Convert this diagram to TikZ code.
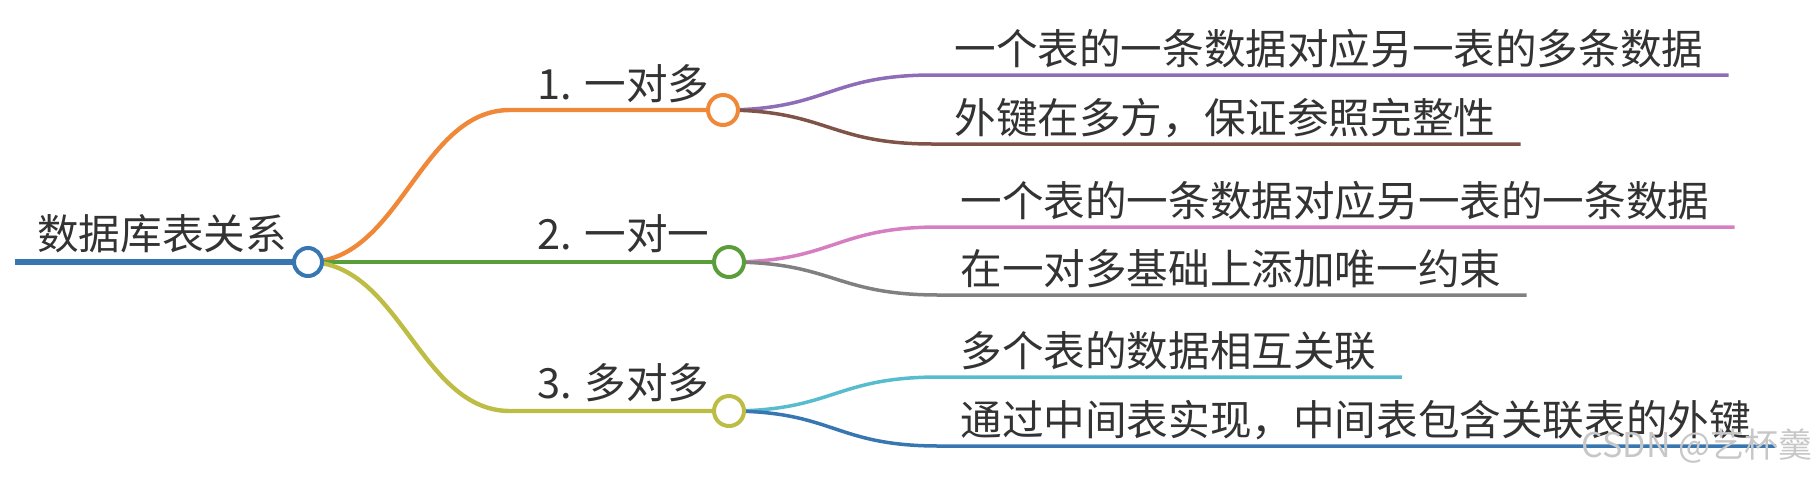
\documentclass[tikz,border=0pt]{standalone}
\usepackage{fontspec}
\setmainfont{Noto Sans CJK SC}
\pgfdeclarelayer{background}
\pgfsetlayers{background,main}

\tikzset{
  hub/.style={circle, draw, fill=white, line width=2pt, minimum size=15pt, inner sep=0pt},
  lbl/.style={anchor=base west, inner sep=0pt},
  leaf/.style={anchor=base west, inner xsep=12.5pt, inner ysep=0pt},
  branch/.style={line width=2.2pt},
  twig/.style={line width=1.75pt},
}

\begin{document}
\begin{tikzpicture}[x=0.5pt, y=-0.5pt, font=\fontsize{20.8pt}{24pt}\selectfont, text=black!80]

\definecolor{cRoot}{HTML}{3776B0}
\definecolor{cOne}{HTML}{F0883A}
\definecolor{cTwo}{HTML}{5A9E3C}
\definecolor{cThree}{HTML}{BDBD45}
\definecolor{cOneA}{HTML}{8D6CB8}
\definecolor{cOneB}{HTML}{7F5347}
\definecolor{cTwoA}{HTML}{D57FC0}
\definecolor{cTwoB}{HTML}{808080}
\definecolor{cThreeA}{HTML}{56BCCE}
\definecolor{cThreeB}{HTML}{3776B0}

\useasboundingbox (0,0) rectangle (1819,478);

%% Geometry: x of the three hubs, leaves sit 231px further right.
\def\xa{723}
\def\xb{729}
\def\xc{729}

%% ---------- hubs ----------
\node[hub, draw=cRoot, minimum size=14pt] (root) at (308,262) {};
\node[hub, draw=cOne] (one) at (\xa,110) {};
\node[hub, draw=cTwo] (two) at (\xb,262) {};
\node[hub, draw=cThree] (three) at (\xc,411) {};

%% ---------- labels ----------
\node[lbl] (tRoot) at (37,249) {数据库表关系};
\node[lbl] (tOne) at (537,99) {1. 一对多};
\node[lbl] (tTwo) at (537,249) {2. 一对一};
\node[lbl] (tThree) at (537,398) {3. 多对多};

%% ---------- leaves ----------
\node[leaf] (l1a) at (\xa+206,64) {一个表的一条数据对应另一表的多条数据};
\node[leaf] (l1b) at (\xa+206,133) {外键在多方，保证参照完整性};
\node[leaf] (l2a) at (\xb+206,216) {一个表的一条数据对应另一表的一条数据};
\node[leaf] (l2b) at (\xb+206,284) {在一对多基础上添加唯一约束};
\node[leaf] (l3a) at (\xc+206,366) {多个表的数据相互关联};
\node[leaf] (l3b) at (\xc+206,435) {通过中间表实现，中间表包含关联表的外键};

%% curve ends
\coordinate (rootStart) at (15,262);
\coordinate (kOne) at (510,110);
\coordinate (kThree) at (510,411);
\coordinate (k1a) at (\xa+210,75);
\coordinate (k1b) at (\xa+210,144);
\coordinate (k2a) at (\xb+210,227);
\coordinate (k2b) at (\xb+210,295);
\coordinate (k3a) at (\xc+210,377);
\coordinate (k3b) at (\xc+210,446);

%% ---------- connectors, under the hubs ----------
\begin{pgfonlayer}{background}
\draw[cRoot, line width=3pt] (rootStart) -- (root.center);
\draw[cOne, branch] (root.center) .. controls +(92,0) and +(-90,0) .. (kOne) -- (one.center);
\draw[cTwo, branch] (root.center) -- (two.center);
\draw[cThree, branch] (root.center) .. controls +(92,0) and +(-90,0) .. (kThree) -- (three.center);

\draw[cOneA, twig] (one.center) .. controls +(105,0) and +(-105,0) .. (k1a) -- (k1a -| l1a.east);
\draw[cOneB, twig] (one.center) .. controls +(105,0) and +(-105,0) .. (k1b) -- (k1b -| l1b.east);
\draw[cTwoA, twig] (two.center) .. controls +(105,0) and +(-105,0) .. (k2a) -- (k2a -| l2a.east);
\draw[cTwoB, twig] (two.center) .. controls +(105,0) and +(-105,0) .. (k2b) -- (k2b -| l2b.east);
\draw[cThreeA, twig] (three.center) .. controls +(105,0) and +(-105,0) .. (k3a) -- (k3a -| l3a.east);
\draw[cThreeB, twig] (three.center) .. controls +(105,0) and +(-105,0) .. (k3b) -- (k3b -| l3b.east);
\end{pgfonlayer}

%% ---------- watermark ----------
\node[anchor=base east, inner sep=0pt, font=\fontsize{17pt}{20pt}\selectfont, text=black!22]
  (mark) at (1813,457) {CSDN @艺杯羹};

\end{tikzpicture}
\end{document}
